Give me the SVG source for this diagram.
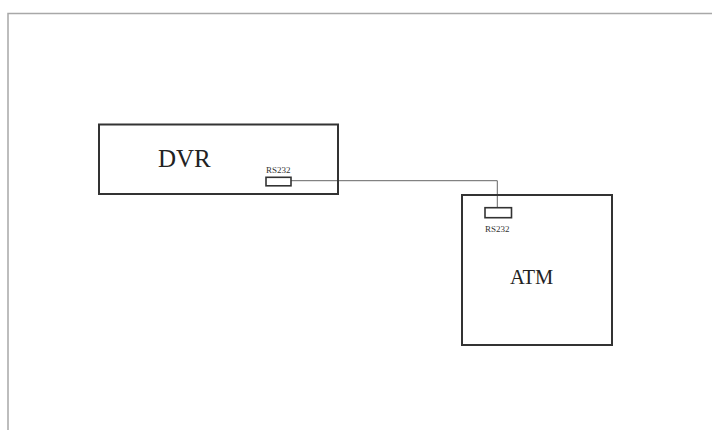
<svg xmlns="http://www.w3.org/2000/svg" width="712" height="430" viewBox="0 0 712 430">
<style>
.frame{fill:none;stroke:#a8a8a8;stroke-width:1.5}
.box{fill:none;stroke:#333;stroke-width:2}
.port{fill:#fff;stroke:#333;stroke-width:1.6}
.wire{fill:none;stroke:#666;stroke-width:1}
.big{font-family:"Liberation Serif","Times New Roman",serif;fill:#222}
.small{font-family:"Liberation Serif","Times New Roman",serif;font-size:9px;fill:#333}
</style>
<rect width="712" height="430" fill="#fff"/>
<path class="frame" d="M8,430 V13.5 H712"/>
<g id="connectors">
<path class="wire" d="M291,180.7 H497.3 V207.7"/>
</g>
<g id="dvr">
<rect class="box" x="99" y="124.5" width="239" height="69.5"/>
<text class="big" x="158" y="167" font-size="25">DVR</text>
<rect class="port" x="266" y="177.3" width="25" height="8.5"/>
<text class="small" x="266" y="173">RS232</text>
</g>
<g id="atm">
<rect class="box" x="462" y="195" width="150" height="150"/>
<text class="big" x="510" y="283.5" font-size="20.5">ATM</text>
<rect class="port" x="485" y="207.7" width="26.5" height="10"/>
<text class="small" x="485" y="232">RS232</text>
</g>
</svg>
